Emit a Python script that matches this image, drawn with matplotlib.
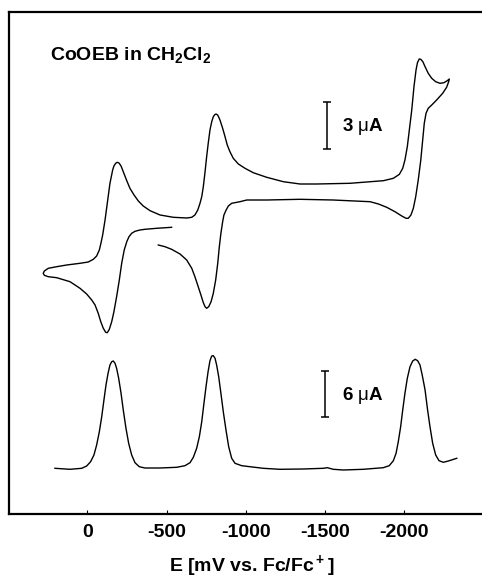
import matplotlib
matplotlib.use('Agg')
import matplotlib.pyplot as plt

plt.rcParams['font.family'] = ['Liberation Sans', 'DejaVu Sans']
plt.rcParams['mathtext.fontset'] = 'custom'
plt.rcParams['mathtext.rm'] = 'Liberation Sans'
plt.rcParams['mathtext.bf'] = 'Liberation Sans:bold'
plt.rcParams['mathtext.default'] = 'bf'

# Cyclic voltammogram (E in mV vs Fc/Fc+, current in arbitrary plot units)
cv_E = [-532, -438, -364, -332, -301, -280, -263, -249, -233, -217, -202, -185, -168, -154,
        -139, -126, -116, -101, -85, -69, -49, -28, 4, 46, 109, 193, 246, 271, 278,
        271, 246, 193, 130, 46, -6, -38, -59, -76, -86, -97, -112, -126, -143, -160, -168,
        -179, -189, -200, -213, -227, -249, -269, -295, -322, -353, -396, -459, -543, -627,
        -659, -679, -697, -711, -722, -732, -743, -753, -763, -774, -785, -795, -804, -812,
        -820, -826, -837, -854, -869, -883, -900, -921, -953, -995, -1047, -1132, -1237,
        -1342, -1447, -1657, -1784, -1868, -1931, -1969, -1990, -2004, -2019, -2032, -2047,
        -2061, -2074, -2083, -2094, -2104, -2117, -2131, -2151, -2173, -2198, -2225, -2250,
        -2271, -2284,
        -2280, -2267, -2242, -2204, -2173, -2151, -2137, -2126, -2116, -2104, -2088, -2072,
        -2057, -2042, -2025, -2011, -1984, -1941, -1889, -1837, -1784, -1550, -1342, -1132,
        -1006, -963, -932, -911, -890, -876, -862, -854, -843, -833, -823, -810, -795, -781,
        -766, -753, -743, -732, -717, -700, -679, -659, -627, -585, -532, -490, -448]
cv_I = [286, 285, 284, 283.3, 282, 280, 276.6, 271.6, 263.3, 250, 233.3, 216.6, 201.6, 191.6,
        184, 180.6, 181, 185, 191.6, 200, 208.3, 213.3, 219.3, 225, 231.6, 235.6, 236.6, 238, 240,
        242.3, 245, 246.6, 248.3, 250, 251.3, 254, 257.3, 263.3, 270, 278.3, 293.3, 310, 330,
        343.3, 347.3, 350, 351, 350.3, 347.3, 341.6, 332.6, 325, 318.3, 312.3, 307.3, 302.6,
        298.3, 296, 295.3,
        296, 298.3, 303.3, 310, 316.6, 326.6, 341.6, 356.6, 370, 383.3, 391.6, 396.6, 398.6,
        399.3, 398.6, 397.3, 393.3, 385, 376.6, 368.3, 361.6, 355, 349.3, 345, 340.6, 336,
        331.6, 329.3, 329.3, 330, 331.6, 332.6, 335, 339, 345, 353.3, 366.6, 383.3, 403.3,
        426.6, 443.3, 450.6, 454.3, 454, 451.6, 446.6, 440, 435, 431.6, 430, 430.6, 432.6,
        434.3,
        431.6, 426, 420, 413.3, 408.3, 405, 400, 390, 373.3, 353.3, 333.3, 316.6, 305, 298.3,
        295, 295, 297.3, 301.6, 306, 309.3, 311.6, 313.3, 314, 313.3, 313.3, 311.6, 310.6,
        310, 307.3, 303.3, 298.3, 291.6, 280, 266.6, 250, 233.3, 220, 211.6, 206.6, 205,
        206.6, 210.6, 218.3, 226.6, 236.6, 245, 253.3, 259.3, 264, 266.6, 268.3]

# Differential pulse voltammogram
dpv_E = [204, 109, 35, 4, -21, -42, -59, -76, -91, -105, -118, -131, -143, -154, -164, -175,
         -185, -198, -213, -227, -244, -261, -280, -301, -328, -364, -459, -564, -616, -648,
         -669, -690, -707, -722, -736, -749, -762, -774, -785, -795, -806, -816, -829, -843,
         -858, -875, -892, -911, -932, -974, -1026, -1110, -1215, -1363, -1489, -1514, -1552,
         -1615, -1741, -1867, -1905, -1931, -1948, -1962, -1977, -1990, -2004, -2019, -2036,
         -2053, -2069, -2084, -2099, -2113, -2131, -2147, -2162, -2179, -2198, -2219, -2246,
         -2278, -2331]
dpv_I = [45, 44, 45, 47.3, 51.6, 58.3, 68.3, 81.6, 96.6, 113.3, 128.3, 140, 148.3, 151.6,
         152.3, 150, 145, 135, 120, 103.3, 85, 70, 58.3, 50.6, 46.6, 45.3, 45.3, 46, 47.6, 50.6,
         56, 65, 76.6, 91.6, 110, 126.6, 141.6, 152.6, 157.3, 157.6, 155, 148.3, 136.6, 120,
         101.6, 83.3, 66.6, 55, 50, 47.6, 46.6, 45, 44, 44.3, 45, 45.6, 44,
         43.3, 44, 45.6, 47.6, 52.6, 60, 71.6, 86.6, 103.3, 120, 135, 146.6,
         152.3, 154, 152.6, 148.3, 138.3, 123.3, 103.3, 86.6, 70, 58.3, 52.6, 51,
         52.3, 55]

# Scale bars (E position, bottom, top) and labels
cv_bar = (-1510, 364.3, 411.6)
dpv_bar = (-1500, 96.0, 142.6)
cv_bar_label = '3 $\\mathrm{\\mu}$A'
dpv_bar_label = '6 $\\mathrm{\\mu}$A'

tick_values = [0, -500, -1000, -1500, -2000]
tick_labels = ['0', '-500', '-1000', '-1500', '-2000']

title_text = 'CoOEB in CH$_2$Cl$_2$'
xlabel_text = 'E [mV vs. Fc/Fc$^+$]'

fig = plt.figure(figsize=(4.82, 5.81), dpi=100)
ax = fig.add_axes([8.5 / 482, 67 / 581, 485.5 / 482, 502 / 581])

ax.plot(cv_E, cv_I, color='black', lw=1.0, solid_joinstyle='round')
ax.plot(dpv_E, dpv_I, color='black', lw=1.0, solid_joinstyle='round')

for (xb, y0, y1) in (cv_bar, dpv_bar):
    ax.errorbar([xb], [(y0 + y1) / 2], yerr=[(y1 - y0) / 2], color='black',
                elinewidth=1.1, capsize=3.0, capthick=1.1, fmt='none')

ax.text(-1605, 386.6, cv_bar_label, fontsize=13.5, fontweight='bold', ha='left', va='center')
ax.text(-1605, 118.3, dpv_bar_label, fontsize=13.5, fontweight='bold', ha='left', va='center')
ax.text(235, 458, title_text, fontsize=14, fontweight='bold', ha='left', va='center')

ax.set_xlim(497.1, -2565.9)
ax.set_ylim(-0.7, 501.3)
ax.set_xticks(tick_values)
ax.set_xticklabels(tick_labels, fontsize=14, fontweight='bold')
ax.set_yticks([])
ax.tick_params(axis='x', direction='in', length=3, width=0.8, pad=7.5)
for s in ax.spines.values():
    s.set_linewidth(1.6)
ax.spines['right'].set_visible(False)

ax.set_xlabel(xlabel_text, fontsize=14, fontweight='bold')
ax.xaxis.label.set_va('center')
ax.xaxis.set_label_coords(0.5, -52 / 502)

fig.savefig('out.png', dpi=100)
